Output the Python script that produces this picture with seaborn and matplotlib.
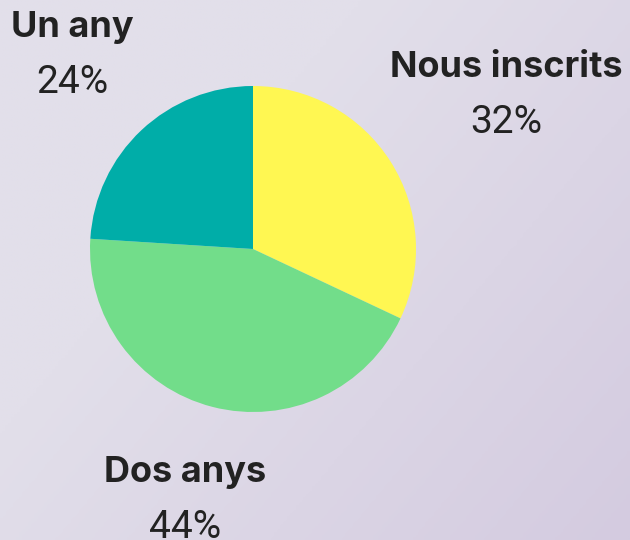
import matplotlib
matplotlib.use("Agg")
import matplotlib.pyplot as plt
from matplotlib.colors import LinearSegmentedColormap
import numpy as np
import seaborn as sns

# slice data, clockwise from 12 o'clock
labels = ['Nous inscrits', 'Dos anys', 'Un any']
values = [32, 44, 24]
colors = ['#FFF752', '#72DD8A', '#00ADA8']

# label anchor (figure pixels): centre x, baseline y of the bold line
label_pos = {'Nous inscrits': (506, 77), 'Dos anys': (185, 482), 'Un any': (72, 37)}

sns.set_theme(style='white')
plt.rcParams['font.family'] = ['Inter', 'Roboto', 'DejaVu Sans']

W, H = 630, 540
bg = '#E0DCE8'
fig = plt.figure(figsize=(W / 100, H / 100), dpi=100, facecolor=bg)

# soft lavender wash in the background, darker toward the bottom right
bgax = fig.add_axes([0, 0, 1, 1], zorder=-1)
gx, gy = np.meshgrid(np.linspace(0, 1, 200), np.linspace(0, 1, 200))
grad = np.clip(0.7 * gx + 0.5 * gy - 0.4, 0, 1)
wash = LinearSegmentedColormap.from_list('wash', ['#E2DFEA', '#D4CBE0'])
bgax.imshow(grad, cmap=wash, aspect='auto', extent=[0, 1, 0, 1], origin='upper')
bgax.axis('off')

# pie axes: centre (253, 249) px, radius 163 px
cx, cy, r = 253, 249, 163
ax = fig.add_axes([(cx - r) / W, (H - cy - r) / H, 2 * r / W, 2 * r / H])
ax.pie(values, colors=colors, startangle=90, counterclock=False,
       radius=1, wedgeprops={'linewidth': 0})
ax.set_xlim(-1, 1)
ax.set_ylim(-1, 1)
ax.set_aspect('equal')
ax.axis('off')

for lab, val in zip(labels, values):
    x, y = label_pos[lab]
    fig.text(x / W, 1 - y / H, lab, ha='center', va='baseline',
             fontsize=26, fontweight='bold', color='#222222')
    fig.text(x / W, 1 - (y + 56) / H, f'{val}%', ha='center', va='baseline',
             fontsize=28, fontweight='normal', color='#222222',
             family=['Roboto', 'DejaVu Sans'])

fig.savefig('out.png', dpi=100, facecolor=bg)
